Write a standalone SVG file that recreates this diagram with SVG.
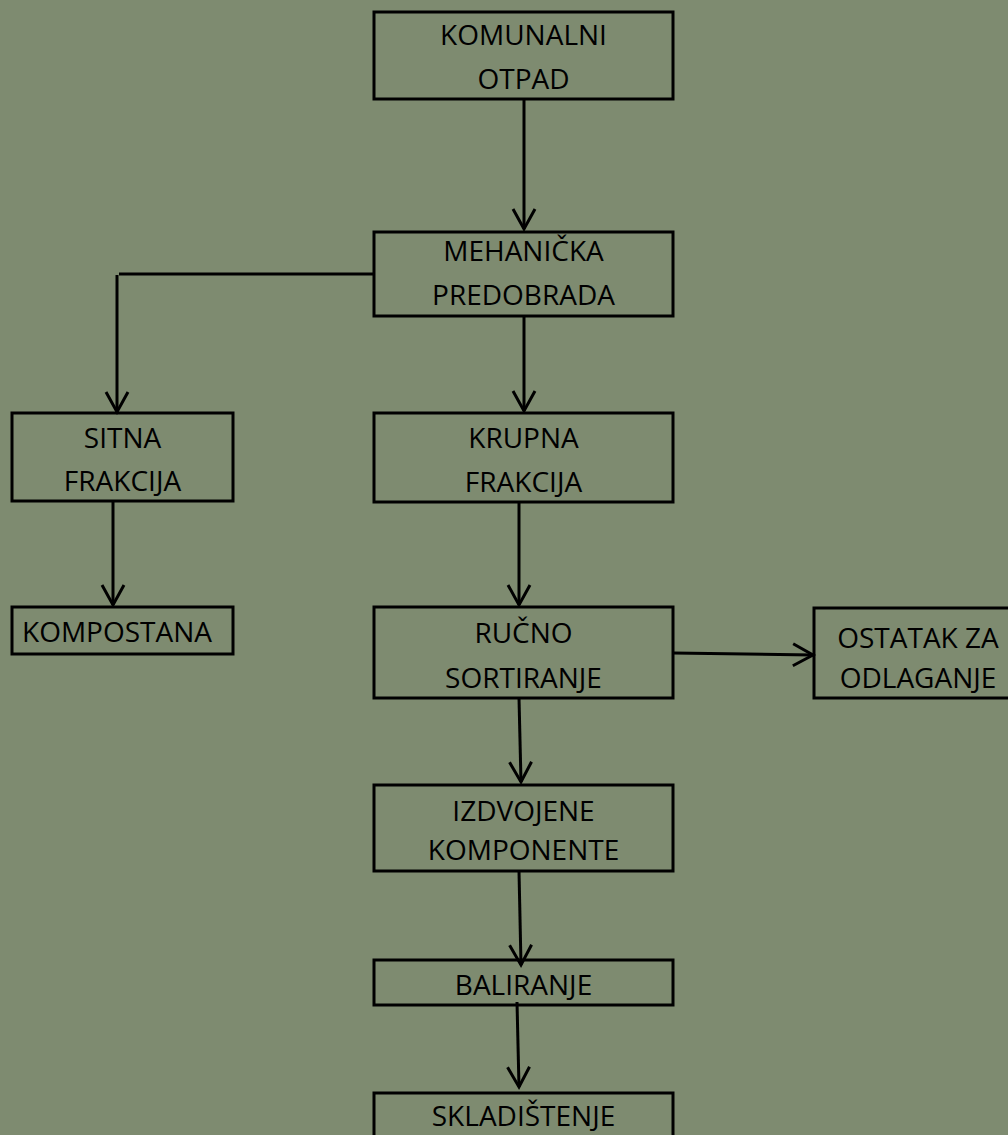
<svg xmlns="http://www.w3.org/2000/svg" width="1008" height="1135" viewBox="0 0 1008 1135">
<defs>
<style>
.box{fill:none;stroke:#000;stroke-width:3}
.lbl{font-family:"Open Sans","Liberation Sans",sans-serif;font-size:28px;fill:#000;text-anchor:middle}
.con{fill:none;stroke:#000;stroke-width:3}
.arr{marker-end:url(#ah)}
</style>
<marker id="ah" markerUnits="userSpaceOnUse" viewBox="-24 -14 28 28" refX="0" refY="0" markerWidth="28" markerHeight="28" orient="auto" overflow="visible">
<path d="M-20,-11 L0,0 L-20,11" fill="none" stroke="#000" stroke-width="3"/>
</marker>
</defs>
<rect width="1008" height="1135" fill="#7E8B70"/>
<g id="connectors">
<line class="con arr" x1="524" y1="99" x2="524" y2="229"/>
<line class="con" x1="373" y1="274" x2="119" y2="274"/>
<line class="con arr" x1="117" y1="275" x2="117" y2="412"/>
<line class="con arr" x1="524" y1="316" x2="524" y2="411"/>
<line class="con arr" x1="113" y1="501" x2="113" y2="605"/>
<line class="con arr" x1="519" y1="502" x2="519" y2="605"/>
<line class="con arr" x1="673" y1="653" x2="813" y2="655"/>
<line class="con arr" x1="519" y1="698" x2="521" y2="782"/>
<line class="con arr" x1="519" y1="871" x2="521" y2="965"/>
<line class="con arr" x1="517" y1="1002" x2="519" y2="1087"/>
</g>
<g id="komunalni-otpad">
<rect class="box" x="374" y="12" width="299" height="87"/>
<text class="lbl" x="523.5" y="45">KOMUNALNI</text>
<text class="lbl" x="523.5" y="89">OTPAD</text>
</g>
<g id="mehanicka-predobrada">
<rect class="box" x="374" y="232" width="299" height="84"/>
<text class="lbl" x="523.5" y="261">MEHANIČKA</text>
<text class="lbl" x="523.5" y="305">PREDOBRADA</text>
</g>
<g id="sitna-frakcija">
<rect class="box" x="12" y="413" width="221" height="88"/>
<text class="lbl" x="122.5" y="448">SITNA</text>
<text class="lbl" x="122.5" y="491">FRAKCIJA</text>
</g>
<g id="kompostana">
<rect class="box" x="12" y="607" width="221" height="47"/>
<text class="lbl" x="117" y="642">KOMPOSTANA</text>
</g>
<g id="krupna-frakcija">
<rect class="box" x="374" y="413" width="299" height="89"/>
<text class="lbl" x="523.5" y="448">KRUPNA</text>
<text class="lbl" x="523.5" y="492">FRAKCIJA</text>
</g>
<g id="rucno-sortiranje">
<rect class="box" x="374" y="607" width="299" height="91"/>
<text class="lbl" x="523.5" y="643">RUČNO</text>
<text class="lbl" x="523.5" y="688">SORTIRANJE</text>
</g>
<g id="ostatak-za-odlaganje">
<rect class="box" x="814" y="608" width="205" height="90"/>
<text class="lbl" x="918" y="648">OSTATAK ZA</text>
<text class="lbl" x="918" y="688">ODLAGANJE</text>
</g>
<g id="izdvojene-komponente">
<rect class="box" x="374" y="785" width="299" height="86"/>
<text class="lbl" x="523.5" y="821">IZDVOJENE</text>
<text class="lbl" x="523.5" y="860">KOMPONENTE</text>
</g>
<g id="baliranje">
<rect class="box" x="374" y="960" width="299" height="45"/>
<text class="lbl" x="523.5" y="995">BALIRANJE</text>
</g>
<g id="skladistenje">
<rect class="box" x="374" y="1093" width="299" height="60"/>
<text class="lbl" x="523.5" y="1126">SKLADIŠTENJE</text>
</g>
</svg>
